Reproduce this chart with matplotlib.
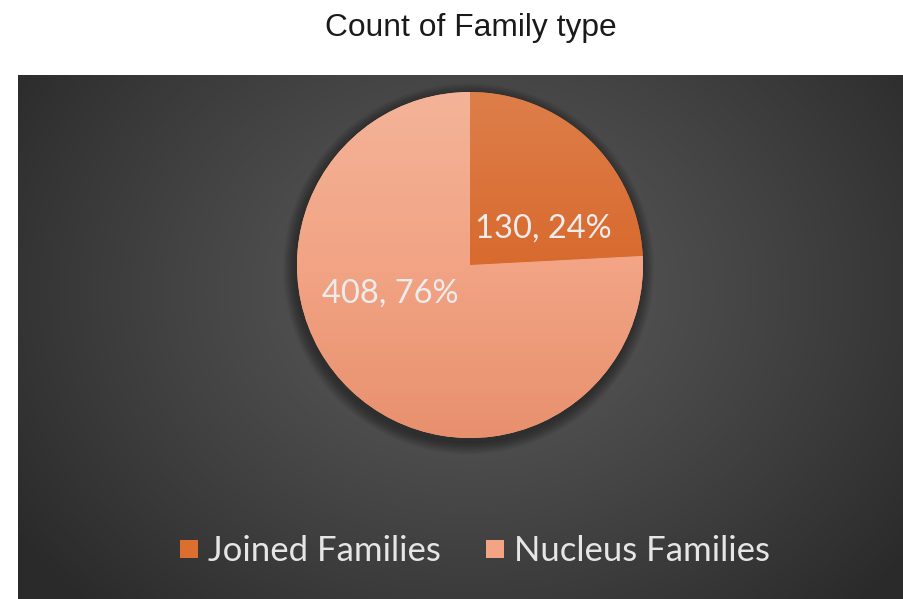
import numpy as np
import matplotlib
matplotlib.use("Agg")
import matplotlib.pyplot as plt
from matplotlib.patches import Circle
from matplotlib.lines import Line2D
from matplotlib.colors import LinearSegmentedColormap

categories = ["Joined Families", "Nucleus Families"]
counts = [130, 408]
title = "Count of Family type"

W, H = 904, 599
fig = plt.figure(figsize=(W / 100, H / 100), dpi=100, facecolor="white")

# dark panel with a soft radial glow
px0, py0 = 18, 75
bg = fig.add_axes([px0 / W, 0, (W - px0) / W, (H - py0) / H])
bg.set_axis_off()
ny, nx = 200, 340
yy, xx = np.mgrid[0:ny, 0:nx]
cx, cy = (470 - px0) / (W - px0) * nx, (290 - py0) / (H - py0) * ny
r = np.sqrt(((xx - cx) / (nx * 0.62)) ** 2 + ((yy - cy) / (ny * 0.85)) ** 2)
r = np.clip(r, 0, 1)
c_in, c_out = 0x5a / 255, 0x2a / 255
val = c_in + (c_out - c_in) * r ** 1.2
img = np.dstack([val, val, val])
bg.imshow(img, extent=(0, 1, 0, 1), origin="upper", aspect="auto", interpolation="bicubic")
bg.set_xlim(0, 1)
bg.set_ylim(0, 1)

fig.text(471 / W, 1 - 28 / H, title, ha="center", va="center",
         fontsize=22.9, family="Liberation Sans", color="#1a1a1a")

# pie axes
pcx, pcy, pr = 470, 265, 173
ax = fig.add_axes([(pcx - pr) / W, (H - pcy - pr) / H, 2 * pr / W, 2 * pr / H])
ax.set_axis_off()

# soft shadow under the pie
for i in range(12):
    ax.add_patch(Circle((-0.008, -0.022), 1.0 + 0.006 * (12 - i), color="black",
                        alpha=0.035, lw=0, zorder=0, clip_on=False))

wedges, _ = ax.pie(counts, startangle=90, counterclock=False, radius=1,
                   colors=["#D86A2E", "#F2A484"],
                   wedgeprops=dict(linewidth=0))
ax.set_xlim(-1, 1)
ax.set_ylim(-1, 1)

grads = [
    ["#DE7E4A", "#D86A2E", "#CC5E27"],
    ["#F4B398", "#F2A484", "#E8906E"],
]
for w, cols in zip(wedges, grads):
    cmap = LinearSegmentedColormap.from_list("g", cols)
    g = np.linspace(0, 1, 256).reshape(-1, 1)
    im = ax.imshow(g, cmap=cmap, extent=(-1, 1, -1, 1), origin="upper",
                   aspect="auto", zorder=2)
    im.set_clip_path(w)

total = sum(counts)
label_pos = [(543, 229), (390, 294)]
for c, (lx, ly) in zip(counts, label_pos):
    pct = round(100 * c / total)
    fig.text(lx / W, 1 - ly / H, f"{c}, {pct}%", ha="center", va="center",
             fontsize=23.5, family="Lato", color="#ECECEC", zorder=5)

handles = [Line2D([], [], linestyle="none", marker="s", markersize=12.5,
                  markerfacecolor=col, markeredgewidth=0)
           for col in ["#DC6E30", "#F2A484"]]
leg = fig.legend(handles, categories, loc="center", bbox_to_anchor=(475 / W, 1 - 551 / H),
                 ncol=2, frameon=False, handlelength=0.5, handletextpad=0.3,
                 columnspacing=1.3, prop=dict(family="Lato", size=25))
for t in leg.get_texts():
    t.set_color("#E6E6E6")

fig.savefig("out.png", dpi=100, facecolor="white")
